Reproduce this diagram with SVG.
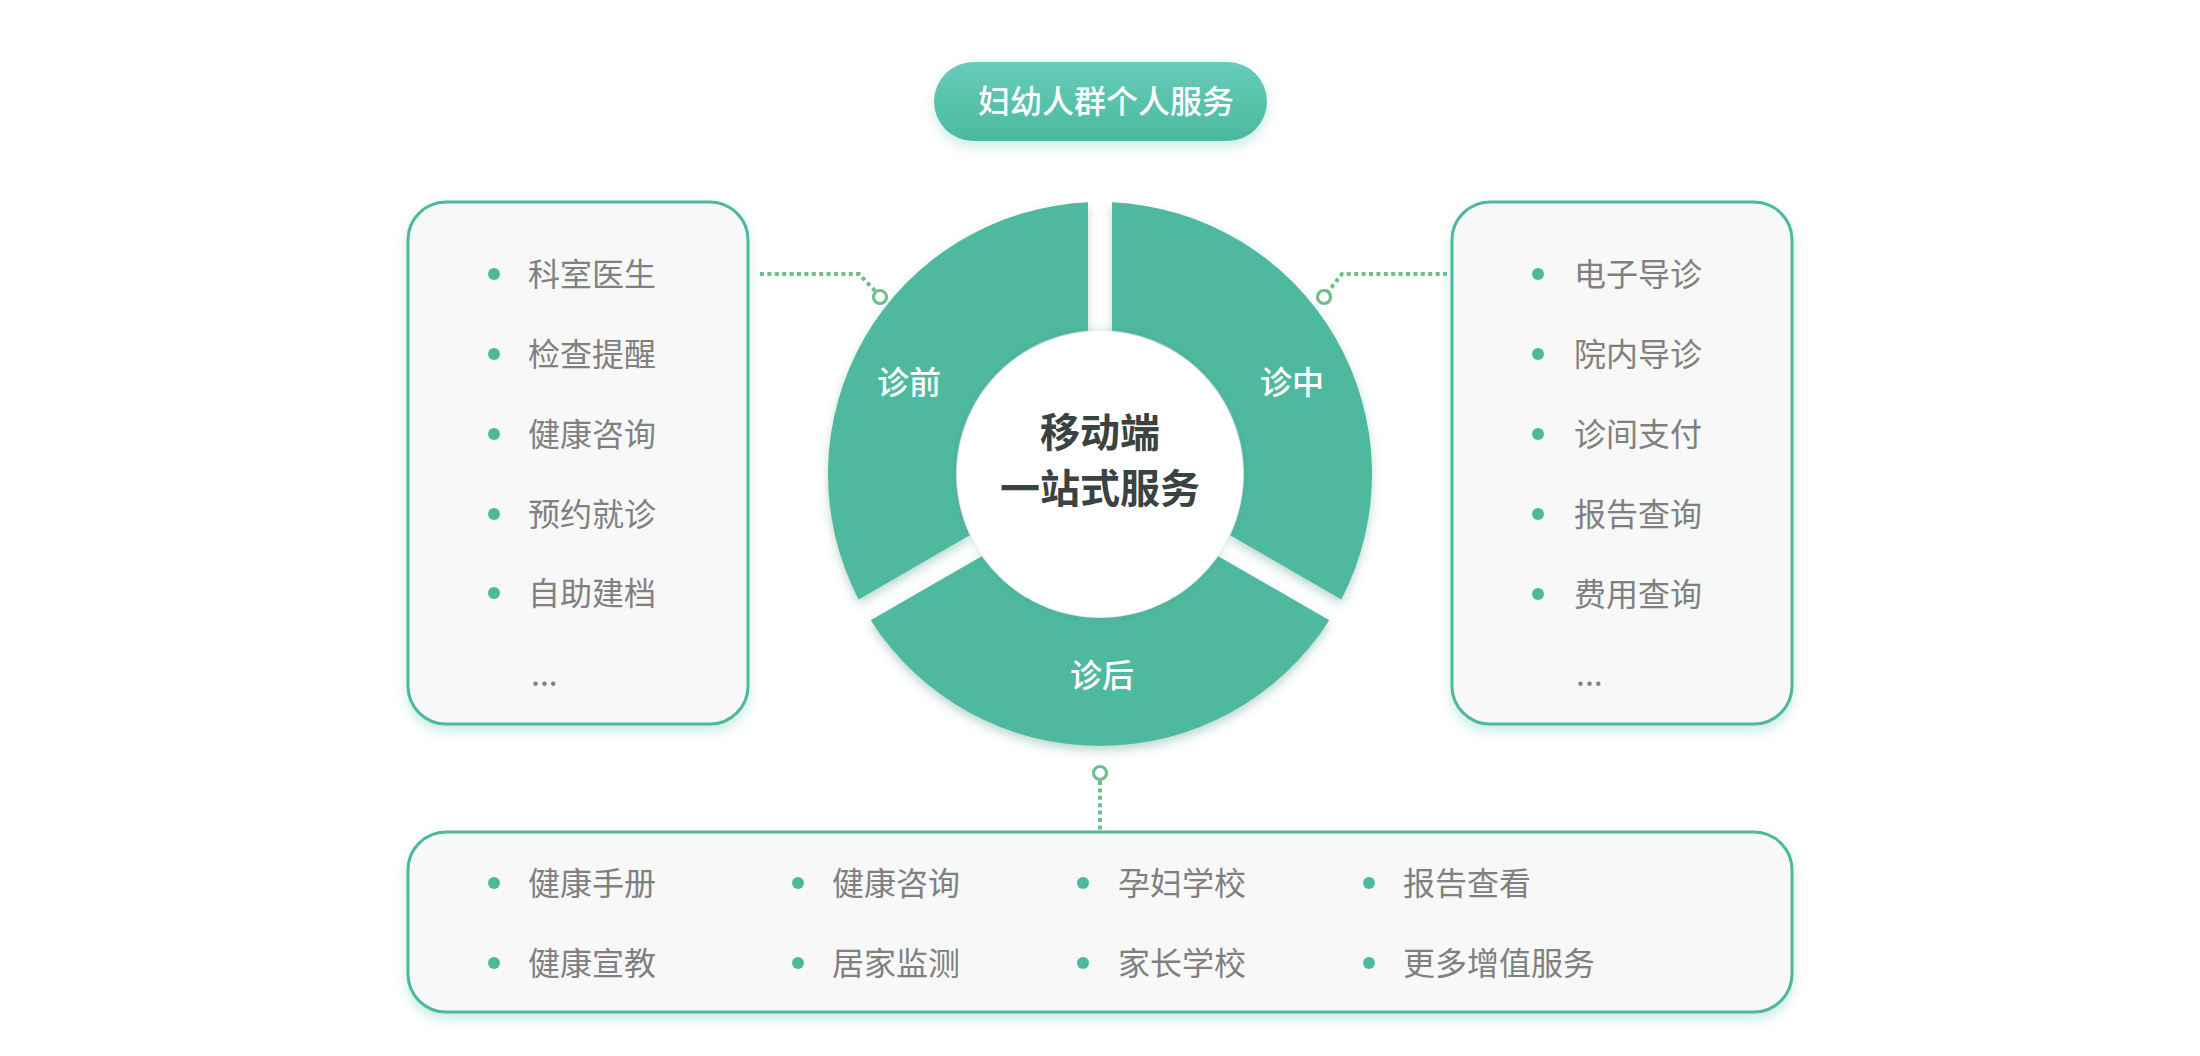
<svg xmlns="http://www.w3.org/2000/svg" width="2200" height="1056" viewBox="0 0 2200 1056">
  <defs>
    <linearGradient id="pillGrad" x1="0" y1="0" x2="0" y2="1">
      <stop offset="0" stop-color="#67cdb8"/>
      <stop offset="1" stop-color="#4bb89f"/>
    </linearGradient>
    <filter id="softShadow" x="-10%" y="-10%" width="120%" height="130%">
      <feDropShadow dx="0" dy="6" stdDeviation="6" flood-color="#4cb99f" flood-opacity="0.28"/>
    </filter>
    <filter id="ringShadow" x="-10%" y="-10%" width="120%" height="130%">
      <feDropShadow dx="0" dy="5" stdDeviation="5" flood-color="#2f7d69" flood-opacity="0.3"/>
    </filter>
    <filter id="innerShadow" x="-20%" y="-20%" width="140%" height="140%">
      <feDropShadow dx="0" dy="0" stdDeviation="4" flood-color="#2f7d69" flood-opacity="0.25"/>
    </filter>
    <style>
      .box { fill: #f8f8f8; stroke: #4cb99f; stroke-width: 3; }
      .seg { fill: #4fb9a0; }
      .item { font-family: "Noto Sans CJK SC", "Noto Sans", sans-serif; font-size: 32px; fill: #808080; }
      .dot { fill: #4cb99f; }
      .segLabel { font-family: "Noto Sans CJK SC", sans-serif; font-size: 32px; font-weight: 500; fill: #ffffff; text-anchor: middle; }
      .center { font-family: "Noto Sans CJK SC", sans-serif; font-size: 40px; font-weight: 700; fill: #3a4242; text-anchor: middle; }
      .title { font-family: "Noto Sans CJK SC", sans-serif; font-size: 32px; font-weight: 500; fill: #ffffff; text-anchor: middle; }
      .conn { fill: none; stroke: #6dbf8b; stroke-width: 4; stroke-dasharray: 4 3.4; }
      .knob { fill: #ffffff; stroke: #6dbf8b; stroke-width: 3.2; }
    </style>
  </defs>

  <rect x="0" y="0" width="2200" height="1056" fill="#ffffff"/>

  <!-- Title -->
  <g id="title">
    <rect x="934" y="62" width="333" height="79" rx="39.5" fill="url(#pillGrad)" filter="url(#softShadow)"/>
    <text class="title" x="1106" y="113">妇幼人群个人服务</text>
  </g>

  <!-- Connectors -->
  <g id="connectors">
    <polyline class="conn" points="760,274 859,274 877,293"/>
    <circle class="knob" cx="880" cy="297" r="6.5"/>
    <polyline class="conn" points="1447,274 1342,274 1327,293"/>
    <circle class="knob" cx="1324" cy="297" r="6.5"/>
    <line class="conn" x1="1100" y1="781" x2="1100" y2="831"/>
    <circle class="knob" cx="1100" cy="773" r="6.5"/>
  </g>

  <!-- Ring -->
  <g id="ring" filter="url(#ringShadow)">
    <g id="seg-pre">
      <path class="seg" d="M 858.66 599.47 A 272 272 0 0 1 1088 202.26 L 1088 330.5 A 144 144 0 0 0 969.73 535.36 Z"/>
    </g>
    <g id="seg-mid">
      <path class="seg" d="M 1112 202.26 A 272 272 0 0 1 1341.34 599.47 L 1230.27 535.36 A 144 144 0 0 0 1112 330.5 Z"/>
    </g>
    <g id="seg-post">
      <path class="seg" d="M 1329.32 620.28 A 272 272 0 0 1 870.68 620.28 L 981.73 556.14 A 144 144 0 0 0 1218.27 556.14 Z"/>
    </g>
  </g>
  <g id="ring-labels">
    <text class="segLabel" x="909" y="394">诊前</text>
    <text class="segLabel" x="1292" y="394">诊中</text>
    <text class="segLabel" x="1102" y="687">诊后</text>
  </g>

  <!-- Center -->
  <g id="center">
    <circle cx="1100" cy="474" r="143" fill="#ffffff" filter="url(#innerShadow)"/>
    <text class="center" x="1100" y="447">移动端</text>
    <text class="center" x="1100" y="503">一站式服务</text>
  </g>

  <!-- Left box: 诊前 -->
  <g id="box-pre">
    <rect class="box" x="408" y="202" width="340" height="522" rx="38" filter="url(#softShadow)"/>
    <circle class="dot" cx="494" cy="274" r="6"/>
    <text class="item" x="528" y="286">科室医生</text>
    <circle class="dot" cx="494" cy="354" r="6"/>
    <text class="item" x="528" y="366">检查提醒</text>
    <circle class="dot" cx="494" cy="434" r="6"/>
    <text class="item" x="528" y="446">健康咨询</text>
    <circle class="dot" cx="494" cy="514" r="6"/>
    <text class="item" x="528" y="526">预约就诊</text>
    <circle class="dot" cx="494" cy="593" r="6"/>
    <text class="item" x="528" y="605">自助建档</text>
    <text class="item" x="531" y="686">...</text>
  </g>

  <!-- Right box: 诊中 -->
  <g id="box-mid">
    <rect class="box" x="1452" y="202" width="340" height="522" rx="38" filter="url(#softShadow)"/>
    <circle class="dot" cx="1538" cy="274" r="6"/>
    <text class="item" x="1574" y="286">电子导诊</text>
    <circle class="dot" cx="1538" cy="354" r="6"/>
    <text class="item" x="1574" y="366">院内导诊</text>
    <circle class="dot" cx="1538" cy="434" r="6"/>
    <text class="item" x="1574" y="446">诊间支付</text>
    <circle class="dot" cx="1538" cy="514" r="6"/>
    <text class="item" x="1574" y="526">报告查询</text>
    <circle class="dot" cx="1538" cy="594" r="6"/>
    <text class="item" x="1574" y="606">费用查询</text>
    <text class="item" x="1576" y="686">...</text>
  </g>

  <!-- Bottom box: 诊后 -->
  <g id="box-post">
    <rect class="box" x="408" y="832" width="1384" height="180" rx="38" filter="url(#softShadow)"/>
    <circle class="dot" cx="494" cy="883" r="6"/>
    <text class="item" x="528" y="895">健康手册</text>
    <circle class="dot" cx="798" cy="883" r="6"/>
    <text class="item" x="832" y="895">健康咨询</text>
    <circle class="dot" cx="1083" cy="883" r="6"/>
    <text class="item" x="1118" y="895">孕妇学校</text>
    <circle class="dot" cx="1369" cy="883" r="6"/>
    <text class="item" x="1403" y="895">报告查看</text>
    <circle class="dot" cx="494" cy="963" r="6"/>
    <text class="item" x="528" y="975">健康宣教</text>
    <circle class="dot" cx="798" cy="963" r="6"/>
    <text class="item" x="832" y="975">居家监测</text>
    <circle class="dot" cx="1083" cy="963" r="6"/>
    <text class="item" x="1118" y="975">家长学校</text>
    <circle class="dot" cx="1369" cy="963" r="6"/>
    <text class="item" x="1403" y="975">更多增值服务</text>
  </g>
</svg>
